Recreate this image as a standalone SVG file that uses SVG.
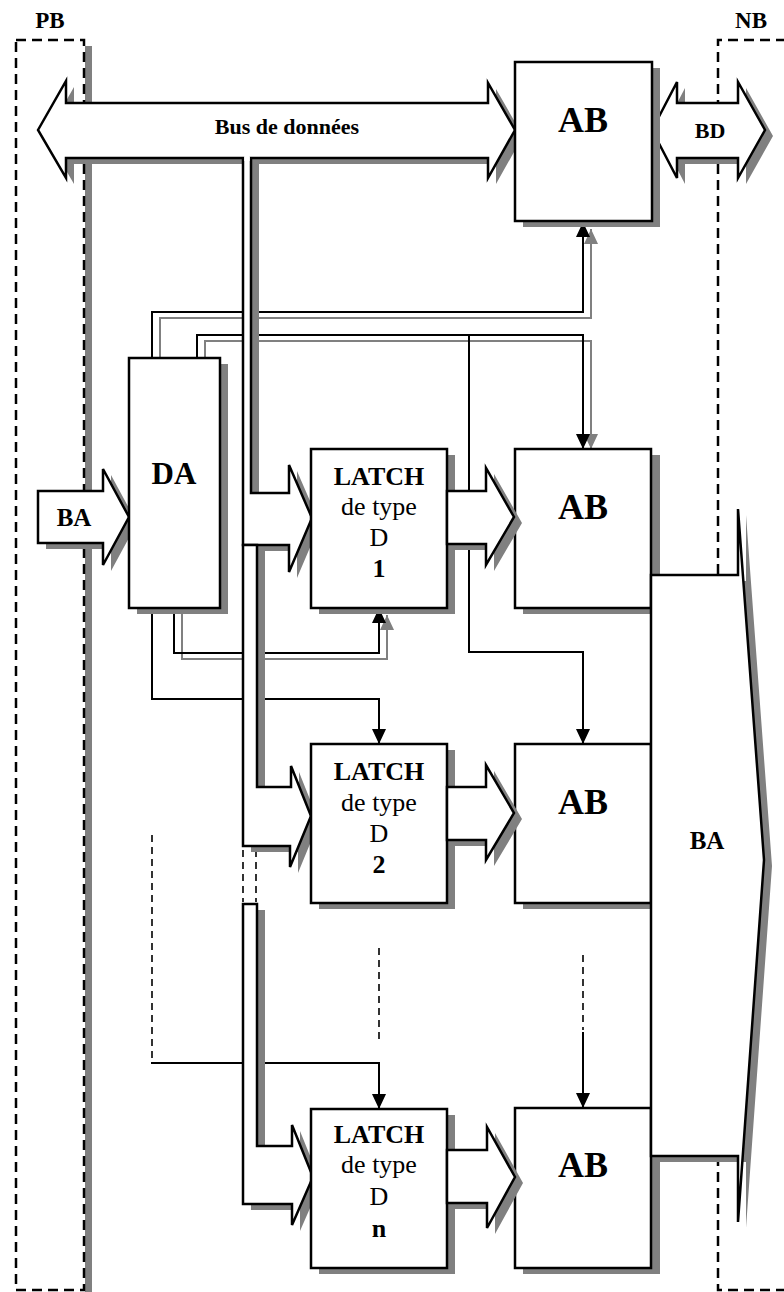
<svg xmlns="http://www.w3.org/2000/svg" width="784" height="1292" viewBox="0 0 784 1292">
<style>
.s{fill:#808080;stroke:none}
.b{fill:#fff;stroke:#000;stroke-width:2.5;stroke-linejoin:miter}
.w{fill:#fff;stroke:none}
.c{fill:none;stroke:#000;stroke-width:2}
.g{fill:none;stroke:#808080;stroke-width:2}
.d{fill:none;stroke:#000;stroke-width:1.6;stroke-dasharray:7,5}
.f{fill:none;stroke:#000;stroke-width:2.5;stroke-dasharray:10,6}
text{font-family:"Liberation Serif","Times New Roman",serif;fill:#000;text-anchor:middle}
.bd{font-weight:bold}
.lt{font-size:26px}
.ab{font-size:36px;font-weight:bold}
</style>
<defs>
<marker id="ah" markerUnits="userSpaceOnUse" markerWidth="16" markerHeight="16" viewBox="0 0 16 16" refX="15" refY="8" orient="auto"><path d="M0,1 L15,8 L0,15 z" fill="#000"/></marker>
<marker id="ahg" markerUnits="userSpaceOnUse" markerWidth="16" markerHeight="16" viewBox="0 0 16 16" refX="15" refY="8" orient="auto"><path d="M0,1 L15,8 L0,15 z" fill="#808080"/></marker>
</defs>
<rect width="784" height="1292" fill="#fff"/>

<g id="pb">
<rect class="s" x="85" y="46" width="7" height="1246"/>
<rect class="f" x="16" y="40" width="68" height="1250"/>
<text class="bd" x="50" y="28" font-size="23">PB</text>
</g>
<g id="nb">
<path class="f" d="M786,40 H718 V1290 H786"/>
<text class="bd" x="751" y="28" font-size="23">NB</text>
</g>

<g id="connectors">
<path class="g" d="M160,358 V318 H591 V229" marker-end="url(#ahg)"/>
<path class="g" d="M205,358 V341 H591 V449" marker-end="url(#ahg)"/>
<path class="g" d="M182,614 V659 H387 V615" marker-end="url(#ahg)"/>
<path class="c" d="M152,358 V312 H583 V222" marker-end="url(#ah)"/>
<path class="c" d="M197,358 V335 H583 V449" marker-end="url(#ah)"/>
<path class="c" d="M469,335 V652 H583 V744" marker-end="url(#ah)"/>
<path class="c" d="M174,608 V653 H379 V608" marker-end="url(#ah)"/>
<path class="c" d="M152,608 V699 H379 V744" marker-end="url(#ah)"/>
<path class="d" d="M152,835 V1063"/>
<path class="c" d="M151,1063 H379 V1109" marker-end="url(#ah)"/>
<path class="d" d="M379,948 V1040"/>
<path class="d" d="M583,955 V1030"/>
<path class="c" d="M583,1032 V1108" marker-end="url(#ah)"/>
<path class="d" d="M243,850 V902 M256,850 V902"/>
</g>

<g id="bus-donnees">
<polygon class="s" transform="translate(8,6)" points="38,130 66,81 66,103 488,103 488,83 515,130 488,178 488,158 66,158 66,178"/>
<polygon class="b" points="38,130 66,81 66,103 488,103 488,83 515,130 488,178 488,158 66,158 66,178"/>
<text class="bd" x="287" y="134" font-size="22">Bus de données</text>
</g>

<g id="bd">
<polygon class="s" transform="translate(8,6)" points="652,130 677,82 677,103 738,103 738,82 765,130 738,178 738,158 677,158 677,178"/>
<polygon class="b" points="652,130 677,82 677,103 738,103 738,82 765,130 738,178 738,158 677,158 677,178"/>
<text class="bd" x="710" y="138" font-size="22">BD</text>
</g>

<g id="ba-in">
<polygon class="s" transform="translate(8,6)" points="38,491 103,491 103,469 129,517 103,565 103,543 38,543"/>
<polygon class="b" points="38,491 103,491 103,469 129,517 103,565 103,543 38,543"/>
<text class="bd" x="74" y="526" font-size="25">BA</text>
</g>

<g id="bus-vertical">
<path class="s" transform="translate(8,6)" d="M251,157 L251,493 L289,493 L289,465 L312,518 L289,572 L289,545 L243,545 L243,157 Z"/>
<path class="b" d="M251,157 L251,493 L289,493 L289,465 L312,518 L289,572 L289,545 L243,545 L243,157"/>
<rect class="w" x="244.3" y="155" width="5.4" height="6"/>
<path class="s" transform="translate(8,6)" d="M243,545 L243,846 L290,846 L290,867 L311,816 L291,766 L291,787 L257,787 L257,545 Z"/>
<path class="b" d="M243,545 L243,846 L290,846 L290,867 L311,816 L291,766 L291,787 L257,787 L257,545 Z"/>
<path class="s" transform="translate(8,6)" d="M243,904 L243,1204 L292,1204 L292,1225 L313,1177 L292,1125 L292,1146 L257,1146 L257,904 Z"/>
<path class="b" d="M243,904 L243,1204 L292,1204 L292,1225 L313,1177 L292,1125 L292,1146 L257,1146 L257,904 Z"/>
</g>

<g id="ab-top">
<rect class="s" x="523" y="68" width="137" height="159"/>
<rect class="b" x="515" y="62" width="137" height="159"/>
<text class="ab" x="583" y="132">AB</text>
</g>

<g id="da">
<rect class="s" x="137" y="364" width="91" height="250"/>
<rect class="b" x="129" y="358" width="91" height="250"/>
<text class="bd" x="174" y="484" font-size="31">DA</text>
</g>

<g id="latch-1">
<rect class="s" x="319" y="455" width="136" height="159"/>
<rect class="b" x="311" y="449" width="136" height="159"/>
<text class="lt bd" x="379" y="485">LATCH</text>
<text class="lt" x="379" y="515">de type</text>
<text class="lt" x="379" y="546">D</text>
<text class="lt bd" x="379" y="577">1</text>
</g>

<g id="latch-2">
<rect class="s" x="319" y="750" width="136" height="159"/>
<rect class="b" x="311" y="744" width="136" height="159"/>
<text class="lt bd" x="379" y="780">LATCH</text>
<text class="lt" x="379" y="811">de type</text>
<text class="lt" x="379" y="842">D</text>
<text class="lt bd" x="379" y="873">2</text>
</g>

<g id="latch-n">
<rect class="s" x="319" y="1115" width="136" height="159"/>
<rect class="b" x="311" y="1109" width="136" height="159"/>
<text class="lt bd" x="379" y="1143">LATCH</text>
<text class="lt" x="379" y="1173">de type</text>
<text class="lt" x="379" y="1205">D</text>
<text class="lt bd" x="379" y="1237">n</text>
</g>

<g id="ab-1">
<rect class="s" x="523" y="455" width="137" height="159"/>
<rect class="b" x="515" y="449" width="136" height="159"/>
<text class="ab" x="583" y="519">AB</text>
</g>
<g id="ab-2">
<rect class="s" x="523" y="750" width="137" height="159"/>
<rect class="b" x="515" y="744" width="136" height="159"/>
<text class="ab" x="583" y="814">AB</text>
</g>
<g id="ab-3">
<rect class="s" x="523" y="1114" width="137" height="160"/>
<rect class="b" x="515" y="1108" width="136" height="160"/>
<text class="ab" x="583" y="1177">AB</text>
</g>

<g id="latch-ab-arrows">
<polygon class="s" transform="translate(8,6)" points="447,491 486,491 486,468 514,517 486,565 486,544 447,544"/>
<polygon class="b" points="447,491 486,491 486,468 514,517 486,565 486,544 447,544"/>
<polygon class="s" transform="translate(8,6)" points="447,787 486,787 486,765 514,813 486,860 486,840 447,840"/>
<polygon class="b" points="447,787 486,787 486,765 514,813 486,860 486,840 447,840"/>
<polygon class="s" transform="translate(8,6)" points="447,1150 487,1150 487,1127 515,1177 487,1228 487,1203 447,1203"/>
<polygon class="b" points="447,1150 487,1150 487,1127 515,1177 487,1228 487,1203 447,1203"/>
</g>

<g id="ba-out">
<polygon class="s" transform="translate(8,6)" points="651,575 738,575 738,509 764,860 738,1222 738,1156 651,1156"/>
<polygon class="b" points="651,575 738,575 738,509 764,860 738,1222 738,1156 651,1156"/>
<text class="bd" x="707" y="849" font-size="25">BA</text>
</g>
</svg>
